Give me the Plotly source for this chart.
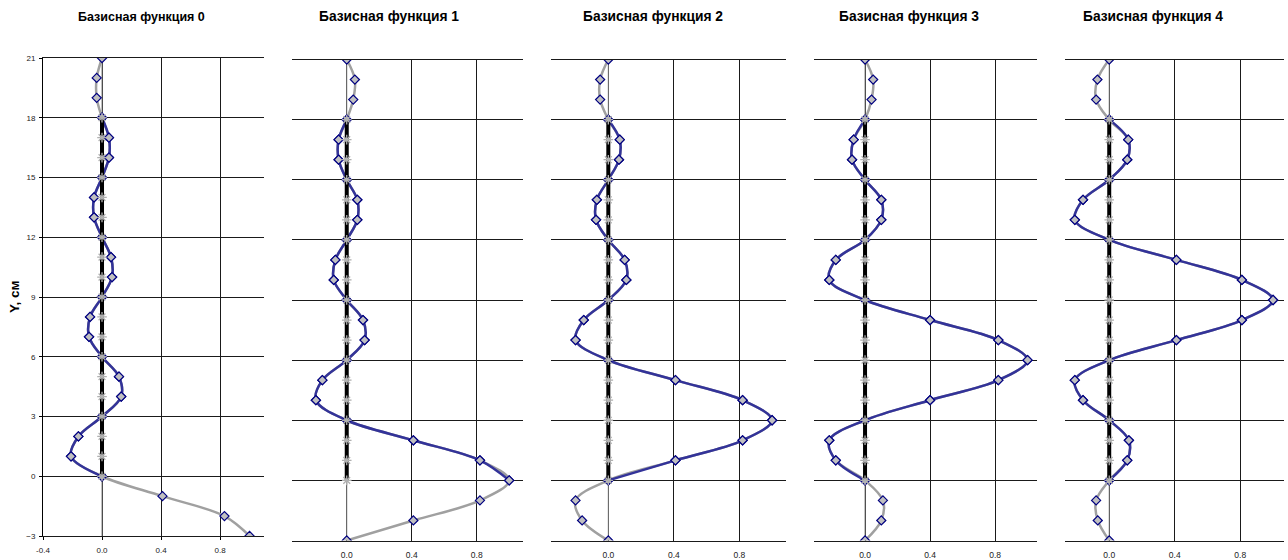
import plotly.graph_objects as go

# Y levels (cm) at which each basis function is sampled
y_levels = list(range(-3, 22))
# interior span where the basis is drawn in blue
y_inner_min, y_inner_max = 0, 18

titles = ["Базисная функция 0", "Базисная функция 1", "Базисная функция 2",
          "Базисная функция 3", "Базисная функция 4"]

basis_0 = [1.0, 0.83, 0.41, 0.0, -0.21, -0.16, 0.0, 0.13, 0.115, 0.0, -0.088, -0.081, 0.0,
           0.068, 0.061, 0.0, -0.054, -0.054, 0.0, 0.047, 0.047, 0.0, -0.036, -0.036, 0.0]
basis_1 = [0.0, 0.41, 0.82, 1.0, 0.82, 0.41, 0.0, -0.19, -0.15, 0.0, 0.11, 0.10, 0.0,
           -0.08, -0.07, 0.0, 0.065, 0.065, 0.0, -0.05, -0.05, 0.0, 0.04, 0.05, 0.0]
basis_2 = [0.0, -0.16, -0.20, 0.0, 0.41, 0.82, 1.0, 0.82, 0.41, 0.0, -0.20, -0.15, 0.0,
           0.11, 0.10, 0.0, -0.075, -0.07, 0.0, 0.065, 0.07, 0.0, -0.05, -0.05, 0.0]
basis_3 = [0.0, 0.10, 0.11, 0.0, -0.18, -0.22, 0.0, 0.40, 0.82, 1.0, 0.82, 0.40, 0.0,
           -0.22, -0.18, 0.0, 0.10, 0.10, 0.0, -0.08, -0.07, 0.0, 0.04, 0.05, 0.0]
basis_4 = [0.0, -0.07, -0.08, 0.0, 0.11, 0.12, 0.0, -0.16, -0.21, 0.0, 0.41, 0.81, 1.0,
           0.81, 0.41, 0.0, -0.21, -0.16, 0.0, 0.11, 0.116, 0.0, -0.08, -0.072, 0.0]
basis = [basis_0, basis_1, basis_2, basis_3, basis_4]

x_ticks = [-0.4, 0.0, 0.4, 0.8]
x_tick_text = ["-0.4", "0.0", "0.4", "0.8"]
y_ticks = [-3, 0, 3, 6, 9, 12, 15, 18, 21]

W, H = 1288, 560
FONT = "Arial, 'Liberation Sans', sans-serif"

# panel geometry in pixels: left, right, top, bottom, x range
panels = [
    dict(l=43, r=264, t=58, b=536, xr=[-0.4, 1.098], title_x=141.7, tf=12.5, lf=8),
    dict(l=292, r=523, t=59.5, b=540.5, xr=[-0.337, 1.085], title_x=389, tf=13.8, lf=8.5),
    dict(l=551, r=786, t=59.5, b=540.5, xr=[-0.35, 1.085], title_x=652.5, tf=13.8, lf=8.5),
    dict(l=814, r=1037, t=59.5, b=540.5, xr=[-0.314, 1.058], title_x=909, tf=13.8, lf=8.5),
    dict(l=1065, r=1284, t=59.5, b=540.5, xr=[-0.27, 1.067], title_x=1153, tf=13.8, lf=8.5),
]

GRAY = "#a0a0a0"
BLUE = "#333399"
NAVY = "#000080"
GRID = "#1a1a1a"
STAR = "#b0b0b0"

fig = go.Figure()
annotations = []

for i, (vals, p) in enumerate(zip(basis, panels)):
    sfx = "" if i == 0 else str(i + 1)
    xa, ya = "x" + sfx, "y" + sfx

    inner = [(v, y) for v, y in zip(vals, y_levels) if y_inner_min <= y <= y_inner_max]
    inner_x = [v for v, _ in inner]
    inner_y = [y for _, y in inner]

    # thin zero reference over the whole height
    fig.add_trace(go.Scatter(x=[0.0] * len(y_levels), y=y_levels, mode="lines",
                             line=dict(color="#808080", width=1),
                             xaxis=xa, yaxis=ya, showlegend=False, hoverinfo="skip"))
    # full smoothed basis (gray)
    fig.add_trace(go.Scatter(x=vals, y=y_levels, mode="lines+markers",
                             line=dict(color=GRAY, width=2.5, shape="spline", smoothing=1),
                             marker=dict(symbol="diamond", size=7, color="#c0c0c0",
                                         line=dict(color=NAVY, width=1.2)),
                             xaxis=xa, yaxis=ya, showlegend=False))
    # interior part (blue)
    fig.add_trace(go.Scatter(x=inner_x, y=inner_y, mode="lines+markers",
                             line=dict(color=BLUE, width=2.5, shape="spline", smoothing=1),
                             marker=dict(symbol="diamond", size=7, color="#c0c0c0",
                                         line=dict(color=NAVY, width=1.2)),
                             xaxis=xa, yaxis=ya, showlegend=False))
    # thick zero axis over the interior span with star nodes
    fig.add_trace(go.Scatter(x=[0.0] * len(inner_y), y=inner_y, mode="lines+markers",
                             line=dict(color="black", width=4),
                             marker=dict(symbol="asterisk-open", size=8, color=STAR,
                                         line=dict(color=STAR, width=1.3)),
                             xaxis=xa, yaxis=ya, showlegend=False))

    first = i == 0
    fig.layout[("xaxis" + sfx)] = dict(
        domain=[p["l"] / W, p["r"] / W], range=p["xr"], anchor=ya, automargin=False,
        tickmode="array", tickvals=x_ticks, ticktext=x_tick_text,
        showgrid=True, gridcolor=GRID, gridwidth=1, zeroline=False,
        showline=True, linecolor=GRID, linewidth=1, mirror=True,
        ticks="outside" if first else "", ticklen=3, tickcolor="black",
        tickfont=dict(family=FONT, size=p["lf"], color="#222222"),
        ticklabelstandoff=3 if first else 6,
        fixedrange=True,
    )
    fig.layout[("yaxis" + sfx)] = dict(
        domain=[1 - p["b"] / H, 1 - p["t"] / H], range=[-3, 21], anchor=xa, automargin=False,
        tickmode="array", tickvals=y_ticks, showticklabels=first,
        showgrid=True, gridcolor=GRID, gridwidth=1, zeroline=False,
        showline=first, linecolor="black", linewidth=1,
        ticks="outside" if first else "", ticklen=3, tickcolor="black",
        tickfont=dict(family=FONT, size=8, color="#222222"),
        ticklabelstandoff=2,
        fixedrange=True,
    )
    annotations.append(dict(text="<b>%s</b>" % titles[i], x=p["title_x"] / W, y=1 - 16.7 / H,
                            xref="paper", yref="paper", xanchor="center", yanchor="middle",
                            showarrow=False, font=dict(family=FONT, size=p["tf"], color="black")))

annotations.append(dict(text="<b>Y, см</b>", x=14 / W, y=1 - 297 / H, xref="paper", yref="paper",
                        xanchor="center", yanchor="middle", textangle=-90, showarrow=False,
                        font=dict(family=FONT, size=13.5, color="black")))

fig.update_layout(template="none", width=W, height=H, margin=dict(l=0, r=0, t=0, b=0, pad=0),
                  paper_bgcolor="white", plot_bgcolor="white",
                  annotations=annotations, showlegend=False)

fig.write_html("out.html")
